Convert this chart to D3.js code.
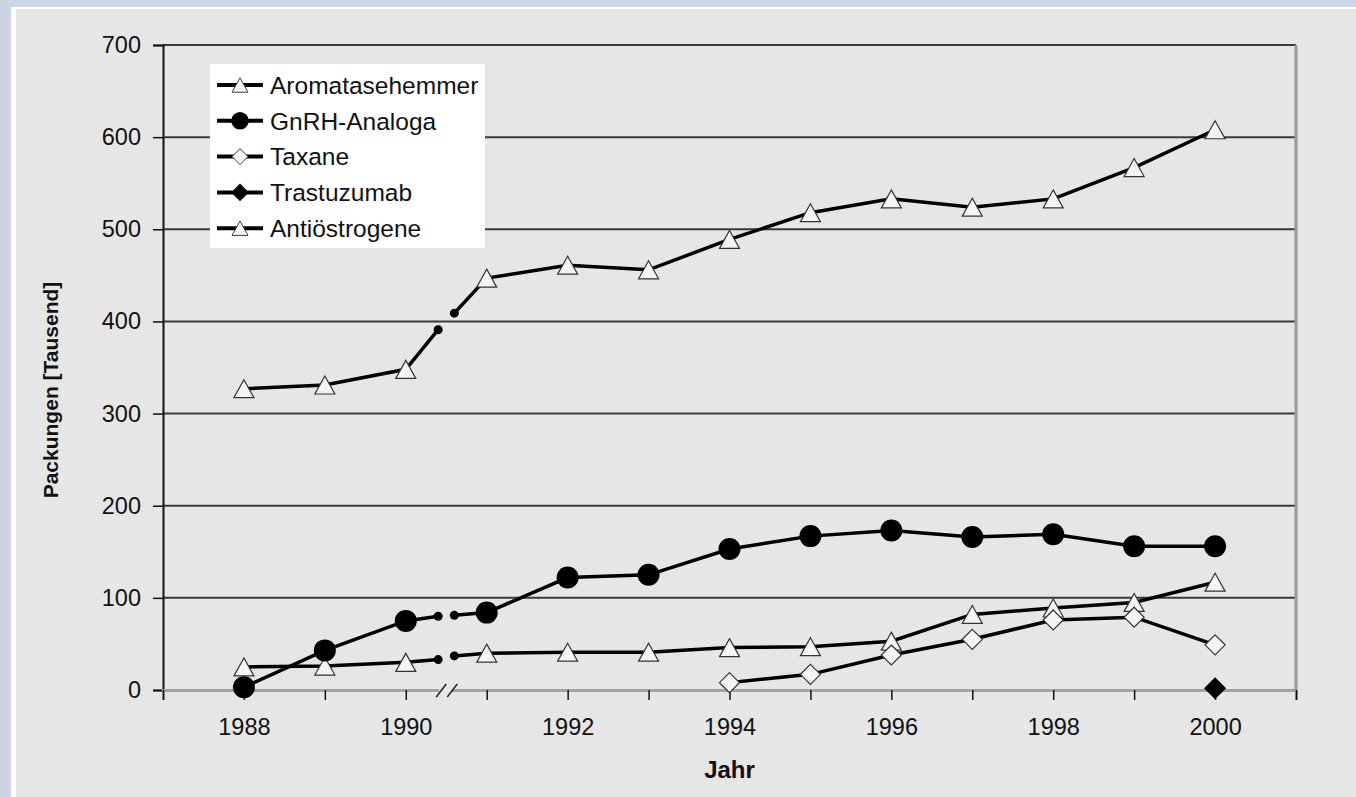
<!DOCTYPE html>
<html>
<head>
<meta charset="utf-8">
<script src="https://cdn.jsdelivr.net/npm/d3@7"></script>
<style>
  body { margin: 0; background: #e6e6e6; }
  text { font-family: "Liberation Sans", Arial, sans-serif; fill: #111; }
</style>
</head>
<body>
<div id="chart"></div>
<script>
// values (Packungen in Tausend)
var years = [1988, 1989, 1990, 1991, 1992, 1993, 1994, 1995, 1996, 1997, 1998, 1999, 2000];
var antioestrogene = [327, 331, 348, 447, 461, 456, 489, 518, 533, 524, 533, 567, 608];
var gnrh = [3, 43, 75, 84, 122, 125, 153, 167, 173, 166, 169, 156, 156];
var aromatase = [25, 26, 30, 40, 41, 41, 46, 47, 53, 82, 89, 95, 117];
var taxaneYears = [1994, 1995, 1996, 1997, 1998, 1999, 2000];
var taxane = [8, 17, 38, 55, 76, 79, 49];
var trastuYears = [2000];
var trastuzumab = [2];

// ends of the lines at the axis break
var breakYears = [1990.4, 1990.6];
var antioestrogeneBreak = [391, 409];
var gnrhBreak = [80, 81];
var aromataseBreak = [33, 37];

var xTicks = [1987, 1988, 1989, 1990, 1991, 1992, 1993, 1994, 1995, 1996, 1997, 1998, 1999, 2000, 2001];
var yTicks = [0, 100, 200, 300, 400, 500, 600, 700];
var legendNames = ["Aromatasehemmer", "GnRH-Analoga", "Taxane", "Trastuzumab", "Antiöstrogene"];
var legendShapes = ["triangle", "circle", "diamond", "bigdiamond", "triangle"];

var width = 1356, height = 797;

var svg = d3.select("#chart").append("svg")
  .attr("width", width)
  .attr("height", height);

// frame
svg.append("rect").attr("width", width).attr("height", height).attr("fill", "#cdd4e4");
svg.append("rect").attr("x", 11).attr("y", 7).attr("width", width).attr("height", height).attr("fill", "#fff");
svg.append("rect").attr("x", 16).attr("y", 9).attr("width", width).attr("height", height).attr("fill", "#e6e6e6");

var x = d3.scaleLinear().domain([1987, 2001]).range([163, 1296]);
var y = d3.scaleLinear().domain([0, 700]).range([690, 45]);

// grid
svg.append("g").selectAll("line")
  .data(yTicks.filter(function (d) { return d > 0; }))
  .enter().append("line")
  .attr("x1", x(1987)).attr("x2", x(2001))
  .attr("y1", function (d) { return y(d); })
  .attr("y2", function (d) { return y(d); })
  .attr("stroke", "#3a3a3a")
  .attr("stroke-width", 2);

// right border
svg.append("line")
  .attr("x1", x(2001)).attr("x2", x(2001))
  .attr("y1", y(700)).attr("y2", y(0))
  .attr("stroke", "#999").attr("stroke-width", 3);

// y axis
var yAxis = svg.append("g")
  .attr("transform", "translate(" + x(1987) + ",0)")
  .call(d3.axisLeft(y).tickValues(yTicks).tickSize(10).tickPadding(12));
yAxis.select(".domain").attr("stroke", "#111").attr("stroke-width", 2);
yAxis.selectAll(".tick line").attr("stroke", "#111").attr("stroke-width", 1.5);
yAxis.selectAll("text").attr("font-size", 23.5).attr("font-family", "Liberation Sans, Arial, sans-serif").attr("fill", "#111");

// x axis
var xAxis = svg.append("g")
  .attr("transform", "translate(0," + y(0) + ")")
  .call(d3.axisBottom(x).tickValues(xTicks).tickSize(10).tickPadding(18)
    .tickFormat(function (d) { return d % 2 === 0 ? d : ""; }));
xAxis.select(".domain").attr("stroke", "#a3a3a3").attr("stroke-width", 3);
xAxis.selectAll(".tick line").attr("stroke", "#111").attr("stroke-width", 1.5);
xAxis.selectAll("text").attr("font-size", 23.5).attr("font-family", "Liberation Sans, Arial, sans-serif").attr("fill", "#111");

// axis break marks
var bx = x(1990.5);
svg.append("rect").attr("x", bx - 7).attr("y", y(0) - 3).attr("width", 13).attr("height", 6).attr("fill", "#e6e6e6");
[-5, 6].forEach(function (o) {
  svg.append("line")
    .attr("x1", bx + o - 5).attr("y1", y(0) + 7)
    .attr("x2", bx + o + 5).attr("y2", y(0) - 6)
    .attr("stroke", "#222").attr("stroke-width", 1.5);
});

// axis titles
svg.append("text")
  .attr("x", (x(1987) + x(2001)) / 2).attr("y", 778)
  .attr("text-anchor", "middle")
  .attr("font-size", 24).attr("font-weight", "bold")
  .text("Jahr");
svg.append("text")
  .attr("transform", "translate(58,390) rotate(-90)")
  .attr("text-anchor", "middle")
  .attr("font-size", 21).attr("font-weight", "bold")
  .text("Packungen [Tausend]");

// markers
function markerPath(shape) {
  if (shape === "triangle") return "M0,-9L10,9L-10,9Z";
  if (shape === "circle") return d3.symbol(d3.symbolCircle, Math.PI * 11 * 11)();
  if (shape === "diamond") return d3.symbol(d3.symbolDiamond2, 255)();
  return d3.symbol(d3.symbolDiamond2, 310)();
}
function markerFill(shape) {
  return shape === "triangle" || shape === "diamond" ? "#f4f4f4" : "#000";
}

var line = d3.line().x(function (d) { return x(d[0]); }).y(function (d) { return y(d[1]); });

function pairs(xs, ys) { return xs.map(function (v, i) { return [v, ys[i]]; }); }

function drawSeries(xs, ys, brk, shape) {
  var pts = pairs(xs, ys);
  var segs;
  if (brk) {
    var bp = pairs(breakYears, brk);
    segs = [pts.filter(function (d) { return d[0] <= 1990; }).concat([bp[0]]),
            [bp[1]].concat(pts.filter(function (d) { return d[0] >= 1991; }))];
  } else {
    segs = [pts];
  }
  var g = svg.append("g");
  g.selectAll("path.seg").data(segs).enter().append("path")
    .attr("class", "seg")
    .attr("d", line)
    .attr("fill", "none")
    .attr("stroke", "#000")
    .attr("stroke-width", 3.5);
  if (brk) {
    g.selectAll("circle.brk").data(pairs(breakYears, brk)).enter().append("circle")
      .attr("class", "brk")
      .attr("cx", function (d) { return x(d[0]); })
      .attr("cy", function (d) { return y(d[1]); })
      .attr("r", 4.5)
      .attr("fill", "#000");
  }
  return { g: g, pts: pts, shape: shape };
}

var all = [
  drawSeries(years, antioestrogene, antioestrogeneBreak, "triangle"),
  drawSeries(years, aromatase, aromataseBreak, "triangle"),
  drawSeries(years, gnrh, gnrhBreak, "circle"),
  drawSeries(taxaneYears, taxane, null, "diamond"),
  drawSeries(trastuYears, trastuzumab, null, "bigdiamond")
];
all.forEach(function (s) {
  s.g.selectAll("path.mk").data(s.pts).enter().append("path")
    .attr("class", "mk")
    .attr("transform", function (d) { return "translate(" + x(d[0]) + "," + y(d[1]) + ")"; })
    .attr("d", markerPath(s.shape))
    .attr("fill", markerFill(s.shape))
    .attr("stroke", s.shape === "triangle" || s.shape === "diamond" ? "#333" : "none")
    .attr("stroke-width", 1.2);
});

// legend
var legend = svg.append("g");
legend.append("rect")
  .attr("x", 210).attr("y", 64).attr("width", 275).attr("height", 184)
  .attr("fill", "#fff");
var rows = legend.selectAll("g.row").data(legendNames).enter().append("g")
  .attr("class", "row")
  .attr("transform", function (d, i) { return "translate(0," + (85 + i * 35.8) + ")"; });
rows.append("line")
  .attr("x1", 217).attr("x2", 263)
  .attr("stroke", "#000").attr("stroke-width", 4);
rows.append("path")
  .attr("transform", "translate(240,0) scale(0.8)")
  .attr("d", function (d, i) { return markerPath(legendShapes[i]); })
  .attr("fill", function (d, i) { return markerFill(legendShapes[i]); })
  .attr("stroke", function (d, i) { return legendShapes[i] === "triangle" || legendShapes[i] === "diamond" ? "#333" : "none"; })
  .attr("stroke-width", 1.2);
rows.append("text")
  .attr("x", 270).attr("dy", "0.36em")
  .attr("font-size", 24.5)
  .text(function (d) { return d; });
</script>
</body>
</html>
